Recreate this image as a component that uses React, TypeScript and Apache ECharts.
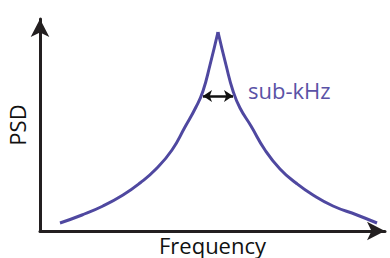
import React, { useEffect, useRef } from "react";
import * as echarts from "echarts";

// Frequency offset from the resonance peak (arbitrary units) and PSD (arbitrary units)
const leftFreq = [-158, -136, -115, -95, -78, -62, -46, -33, -22, -15, -8, 0];
const leftPsd = [8, 16, 25, 36, 48, 62, 81, 104, 124, 140, 166, 199];
const rightFreq = [0, 8, 15, 22, 33, 47, 62, 78, 95, 115, 139, 159];
const rightPsd = [199, 166, 140, 123, 105, 81, 62, 48, 36, 25, 16, 8];

const widthMarker = [-15, 15];
const widthLevel = 135;

const xName = "Frequency";
const yName = "PSD";
const widthLabel = "sub-kHz";

const LINE = "#4f48a0";
const AXIS = "#231f20";
const FONT = "'Open Sans', 'Noto Sans', sans-serif";

export default function App() {
  const ref = useRef<HTMLDivElement>(null);
  useEffect(() => {
    if (!ref.current) return;
    const chart = echarts.init(ref.current, null, { renderer: "svg" });
    const axisCommon = {
      axisTick: { show: false },
      axisLabel: { show: false },
      splitLine: { show: false },
    };
    chart.setOption({
      animation: false,
      grid: { left: 40, right: 5, top: 19, bottom: 27, outerBoundsMode: "none", containLabel: false },
      xAxis: {
        type: "value",
        min: -178,
        max: 167,
        ...axisCommon,
        axisLine: {
          show: true,
          onZero: false,
          symbol: ["none", "arrow"],
          symbolSize: [14, 18],
          lineStyle: { color: AXIS, width: 3 },
        },
        name: xName,
        nameLocation: "middle",
        nameGap: 3,
        nameTextStyle: { fontSize: 22, color: "#111", fontFamily: FONT, verticalAlign: "top" },
      },
      yAxis: {
        type: "value",
        min: 0,
        max: 212,
        ...axisCommon,
        axisLine: {
          show: true,
          onZero: false,
          symbol: ["none", "arrow"],
          symbolSize: [14, 18],
          lineStyle: { color: AXIS, width: 3 },
        },
        name: yName,
        nameLocation: "middle",
        nameGap: 12,
        nameRotate: 90,
        nameTextStyle: { fontSize: 22, color: "#111", fontFamily: FONT },
      },
      series: [
        {
          type: "line",
          data: leftFreq.map((f, i) => [f, leftPsd[i]]),
          smooth: 0.5,
          showSymbol: false,
          lineStyle: { color: LINE, width: 3 },
          markLine: {
            silent: true,
            symbol: ["arrow", "arrow"],
            symbolSize: [9, 9],
            label: { show: false },
            lineStyle: { color: "#111", width: 2.5, type: "solid" },
            data: [[{ coord: [widthMarker[0], widthLevel] }, { coord: [widthMarker[1], widthLevel] }]],
          },
        },
        {
          type: "line",
          data: rightFreq.map((f, i) => [f, rightPsd[i]]),
          smooth: 0.5,
          showSymbol: false,
          lineStyle: { color: LINE, width: 3 },
        },
      ],
      graphic: [
        {
          type: "text",
          left: 248,
          top: 79,
          style: { text: widthLabel, fontSize: 22, fill: "#5a52a6", fontFamily: FONT },
        },
      ],
    });
    return () => chart.dispose();
  }, []);
  return (
    <div
      ref={ref}
      style={{ position: "fixed", left: 0, top: 0, width: 390, height: 258, background: "#fff" }}
    />
  );
}
